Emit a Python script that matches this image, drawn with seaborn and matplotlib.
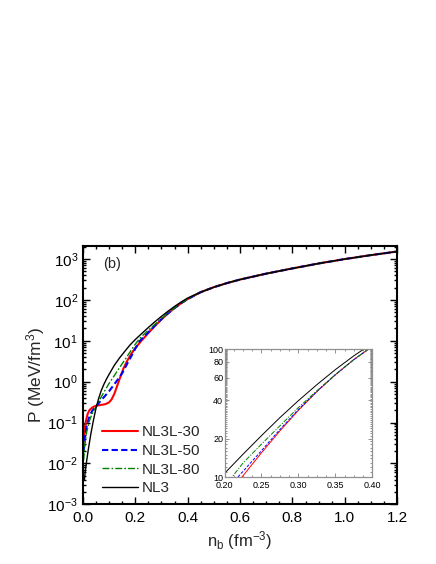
import numpy as np
import pandas as pd
import matplotlib
matplotlib.use("Agg")
import matplotlib.pyplot as plt
import matplotlib.ticker as mticker
import seaborn as sns

# common high-density part (curves merge above ~0.4 fm^-3)
hi_x = [0.45, 0.50, 0.55, 0.60, 0.70, 0.80, 0.90, 1.00, 1.10, 1.20]
hi_y = [155, 205, 258, 315, 440, 590, 780, 1000, 1250, 1530]

nl3l30_x = [0.003, 0.008, 0.012, 0.018, 0.025, 0.035, 0.045, 0.055, 0.07, 0.085, 0.10,
            0.11, 0.12, 0.13, 0.14, 0.155, 0.17, 0.185, 0.20, 0.2235, 0.25, 0.275,
            0.30, 0.325, 0.35, 0.375, 0.40]
nl3l30_y = [0.03, 0.07, 0.11, 0.16, 0.20, 0.23, 0.25, 0.26, 0.27, 0.28, 0.31,
            0.37, 0.50, 0.75, 1.15, 2.1, 3.3, 4.8, 6.6, 10, 15.5, 23.0,
            33.3, 46.6, 63.1, 82.8, 105]

nl3l50_x = [0.003, 0.008, 0.015, 0.025, 0.035, 0.045, 0.055, 0.07, 0.085, 0.10, 0.115,
            0.13, 0.15, 0.17, 0.185, 0.20, 0.218, 0.25, 0.275, 0.30, 0.325, 0.35,
            0.375, 0.40]
nl3l50_y = [0.02, 0.045, 0.085, 0.14, 0.19, 0.23, 0.27, 0.35, 0.45, 0.58, 0.78,
            1.05, 1.6, 2.8, 4.2, 6.4, 10, 16.1, 23.6, 33.8, 46.8, 63.1,
            82.8, 105]

nl3l80_x = [0.003, 0.008, 0.015, 0.025, 0.035, 0.045, 0.055, 0.07, 0.085, 0.10, 0.12,
            0.14, 0.16, 0.18, 0.195, 0.21, 0.225, 0.25, 0.275, 0.30, 0.325, 0.35,
            0.375, 0.40]
nl3l80_y = [0.012, 0.03, 0.06, 0.11, 0.16, 0.21, 0.27, 0.42, 0.62, 0.90, 1.4,
            2.2, 3.4, 5.3, 7.4, 10, 12.9, 18.1, 25.2, 35.0, 47.3, 63.3,
            83.0, 105]

nl3_x = [0.006, 0.01, 0.015, 0.02, 0.03, 0.04, 0.05, 0.06, 0.07, 0.08, 0.09, 0.10,
         0.12, 0.14, 0.16, 0.18, 0.20, 0.225, 0.25, 0.275, 0.30, 0.325, 0.35,
         0.375, 0.40]
nl3_y = [0.004, 0.007, 0.012, 0.02, 0.05, 0.11, 0.22, 0.38, 0.60, 0.85, 1.15, 1.5,
         2.5, 3.8, 5.5, 7.9, 10.7, 15.1, 21.1, 29.2, 39.6, 52.8, 69.2,
         88.7, 111]

models = ["NL3L-30", "NL3L-50", "NL3L-80", "NL3"]
colors = ["#ff0000", "#0000ff", "#008000", "#000000"]
styles = ["-", (0, (3, 1.6)), (0, (5, 1.5, 1.2, 1.5)), "-"]
widths = [1.5, 1.5, 1.0, 1.0]
low = [(nl3l30_x, nl3l30_y), (nl3l50_x, nl3l50_y), (nl3l80_x, nl3l80_y), (nl3_x, nl3_y)]

sns.set_style("ticks")
plt.rcParams['font.family'] = ['Liberation Sans', 'DejaVu Sans']
plt.rcParams['mathtext.fontset'] = 'custom'
plt.rcParams['mathtext.rm'] = 'Liberation Sans'
plt.rcParams['mathtext.default'] = 'regular'

fig = plt.figure(figsize=(4.36, 5.64), dpi=100)
ax = fig.add_axes([0.190, 0.106, 0.721, 0.458])

for name, (lx, ly), c, ls, lw in zip(models, low, colors, styles, widths):
    x = list(lx) + hi_x
    y = list(ly) + hi_y
    sns.lineplot(x=x, y=y, ax=ax, color=c, linestyle=ls, linewidth=lw,
                 label=name, sort=False, estimator=None)

ax.set_yscale("log")
ax.set_xlim(0, 1.2)
ax.set_ylim(1e-3, 2100)
ax.xaxis.set_major_locator(mticker.MultipleLocator(0.2))
ax.xaxis.set_minor_locator(mticker.MultipleLocator(0.05))
ax.xaxis.set_major_formatter(mticker.FormatStrFormatter('%.1f'))
ax.yaxis.set_major_locator(mticker.LogLocator(base=10, numticks=12))
ax.yaxis.set_minor_locator(mticker.LogLocator(base=10, subs=np.arange(2, 10), numticks=12))
ax.yaxis.set_minor_formatter(mticker.NullFormatter())
ax.tick_params(which='both', direction='in', top=True, right=True, colors='black',
               labelsize=11, width=1.0)
ax.tick_params(axis='x', pad=5)
ax.tick_params(which='major', length=5)
ax.tick_params(which='minor', length=2.5)
for s in ax.spines.values():
    s.set_linewidth(1.5)
    s.set_color('black')
ax.set_xlabel("n$_b$ (fm$^{-3}$)", fontsize=12, labelpad=3)
ax.set_ylabel("P (MeV/fm$^3$)", fontsize=12.5, labelpad=0)
ax.text(0.064, 0.93, "(b)", transform=ax.transAxes, fontsize=10.5, va='center')

ax.legend(loc='lower left', bbox_to_anchor=(0.06, 0.035), frameon=False, fontsize=11,
          handlelength=2.4, handletextpad=0.2, labelspacing=0.3, borderaxespad=0.0,
          borderpad=0.0)

# inset
ins = fig.add_axes([0.515, 0.154, 0.339, 0.227])
for name, (lx, ly), c, ls, lw in zip(models, low, colors, styles, widths):
    x = list(lx) + hi_x
    y = list(ly) + hi_y
    sns.lineplot(x=x, y=y, ax=ins, color=c, linestyle=ls, linewidth=0.7,
                 sort=False, estimator=None, legend=False)
ins.set_yscale("log")
ins.set_xlim(0.2, 0.4)
ins.set_ylim(10, 100)
ins.xaxis.set_major_locator(mticker.MultipleLocator(0.05))
ins.xaxis.set_minor_locator(mticker.MultipleLocator(0.0125))
ins.xaxis.set_major_formatter(mticker.FormatStrFormatter('%.2f'))
ins.yaxis.set_major_locator(mticker.FixedLocator([10, 20, 40, 60, 80, 100]))
ins.yaxis.set_major_formatter(mticker.FixedFormatter(["10", "20", "40", "60", "80", "100"]))
ins.yaxis.set_minor_locator(mticker.FixedLocator(list(range(11, 100))))
ins.yaxis.set_minor_formatter(mticker.NullFormatter())
ins.tick_params(which='both', direction='in', top=True, right=True, color='#808080',
                labelcolor='black', labelsize=6.5, width=0.6, pad=1)
ins.tick_params(axis='x', pad=2.5)
ins.tick_params(which='major', length=3)
ins.tick_params(which='minor', length=1.5)
for s in ins.spines.values():
    s.set_linewidth(0.9)
    s.set_color('#909090')
ins.set_xlabel("")
ins.set_ylabel("")

fig.savefig("out.png", dpi=100)
